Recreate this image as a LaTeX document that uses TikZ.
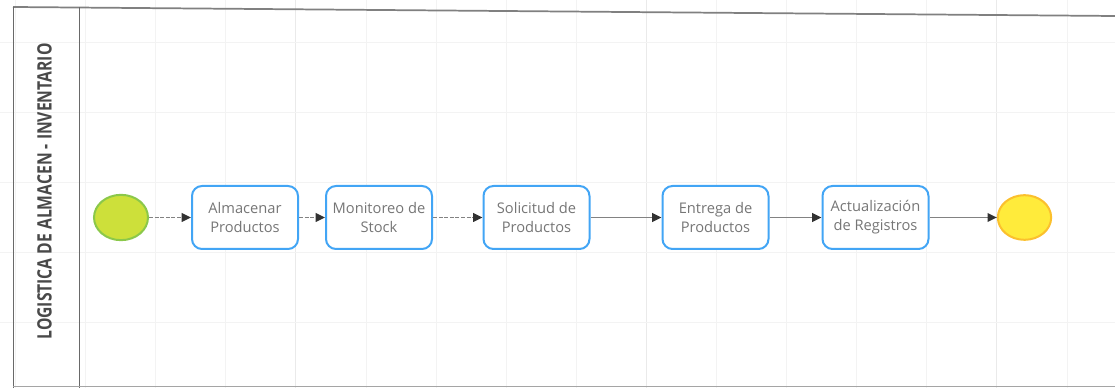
\documentclass[tikz,border=0pt]{standalone}
\usepackage{fontspec}
\setmainfont{Open Sans}
\usetikzlibrary{arrows.meta,shapes.geometric}
\definecolor{rejilla}{RGB}{243,243,243}
\definecolor{rejillafuerte}{RGB}{234,234,234}
\definecolor{borde}{RGB}{105,105,105}
\definecolor{azul}{RGB}{66,165,245}
\definecolor{texto}{RGB}{118,118,118}
\definecolor{linea}{RGB}{130,130,130}
\definecolor{punta}{RGB}{50,50,50}
\definecolor{verde}{RGB}{205,224,58}
\definecolor{verdeborde}{RGB}{139,200,74}
\definecolor{amarillo}{RGB}{255,235,59}
\definecolor{amarilloborde}{RGB}{251,192,45}
\begin{document}
\begin{tikzpicture}[x=0.75pt, y=-0.75pt,
  tarea/.style={draw=azul, line width=1.5pt, rounded corners=7.5pt, fill=white,
    minimum width=79.5pt, minimum height=47.25pt, align=center, text=texto,
    font=\fontsize{11}{14.25}\selectfont},
  evento/.style={ellipse, line width=1.5pt, minimum width=40.5pt, minimum height=34pt},
  flecha/.style={draw=linea, line width=1.1pt, -{Triangle[length=7pt, width=6.5pt, color=punta]}},
  punteada/.style={flecha, dash pattern=on 3pt off 1.2pt}]
  \useasboundingbox (0,0) rectangle (1115,388);

  % Rejilla de fondo
  \foreach \i in {0,...,15}
    \draw[rejilla, line width=0.75pt] (15.5+70.1*\i,0) -- (15.5+70.1*\i,388);
  \foreach \i in {4,9,14}
    \draw[rejillafuerte, line width=0.75pt] (15.5+70.1*\i,0) -- (15.5+70.1*\i,388);
  \foreach \j in {0,...,4}
    \draw[rejilla, line width=0.75pt] (0,43+70*\j) -- (1115,43+70*\j);

  % Piscina con carril
  \coordinate (PA) at (13,7);
  \coordinate (PB) at (1115,16);
  \coordinate (PC) at (1115,387);
  \coordinate (PD) at (13,387);
  \draw[borde!85, line width=1.3pt] (PA) -- (PB);
  \draw[borde, line width=0.75pt] (PA) -- (13,388);
  \draw[borde, line width=0.75pt] (79,7.5) -- (79,388);
  \draw[borde!60, line width=0.75pt] (PD) -- (PC);
  \node[rotate=90, text=borde!70!black] (carril) at (44.5,191.5)
    {\resizebox{222pt}{10.8pt}{\bfseries LOGISTICA DE ALMACEN - INVENTARIO}};

  % Eventos y tareas
  \node[evento, draw=verdeborde, fill=verde] (inicio) at (121,217.5) {};
  \node[tarea] (almacenar) at (245,217.5) {Almacenar\\Productos};
  \node[tarea] (monitoreo) at (379,217.5) {Monitoreo de\\Stock};
  \node[tarea] (solicitud) at (536.5,217.5) {Solicitud de\\Productos};
  \node[tarea] (entrega) at (715.5,217.5) {Entrega de\\Productos};
  \node[tarea] (actualizacion) at (875.5,217.5) {Actualización\\de Registros};
  \node[evento, draw=amarilloborde, fill=amarillo, minimum width=40pt, minimum height=33.5pt] (fin) at (1024.5,217.5) {};

  % Flujo
  \draw[punteada] (inicio) -- (almacenar);
  \draw[punteada] (almacenar) -- (monitoreo);
  \draw[punteada] (monitoreo) -- (solicitud);
  \draw[flecha] (solicitud) -- (entrega);
  \draw[flecha] (entrega) -- (actualizacion);
  \draw[flecha] (actualizacion) -- (fin);
\end{tikzpicture}
\end{document}
